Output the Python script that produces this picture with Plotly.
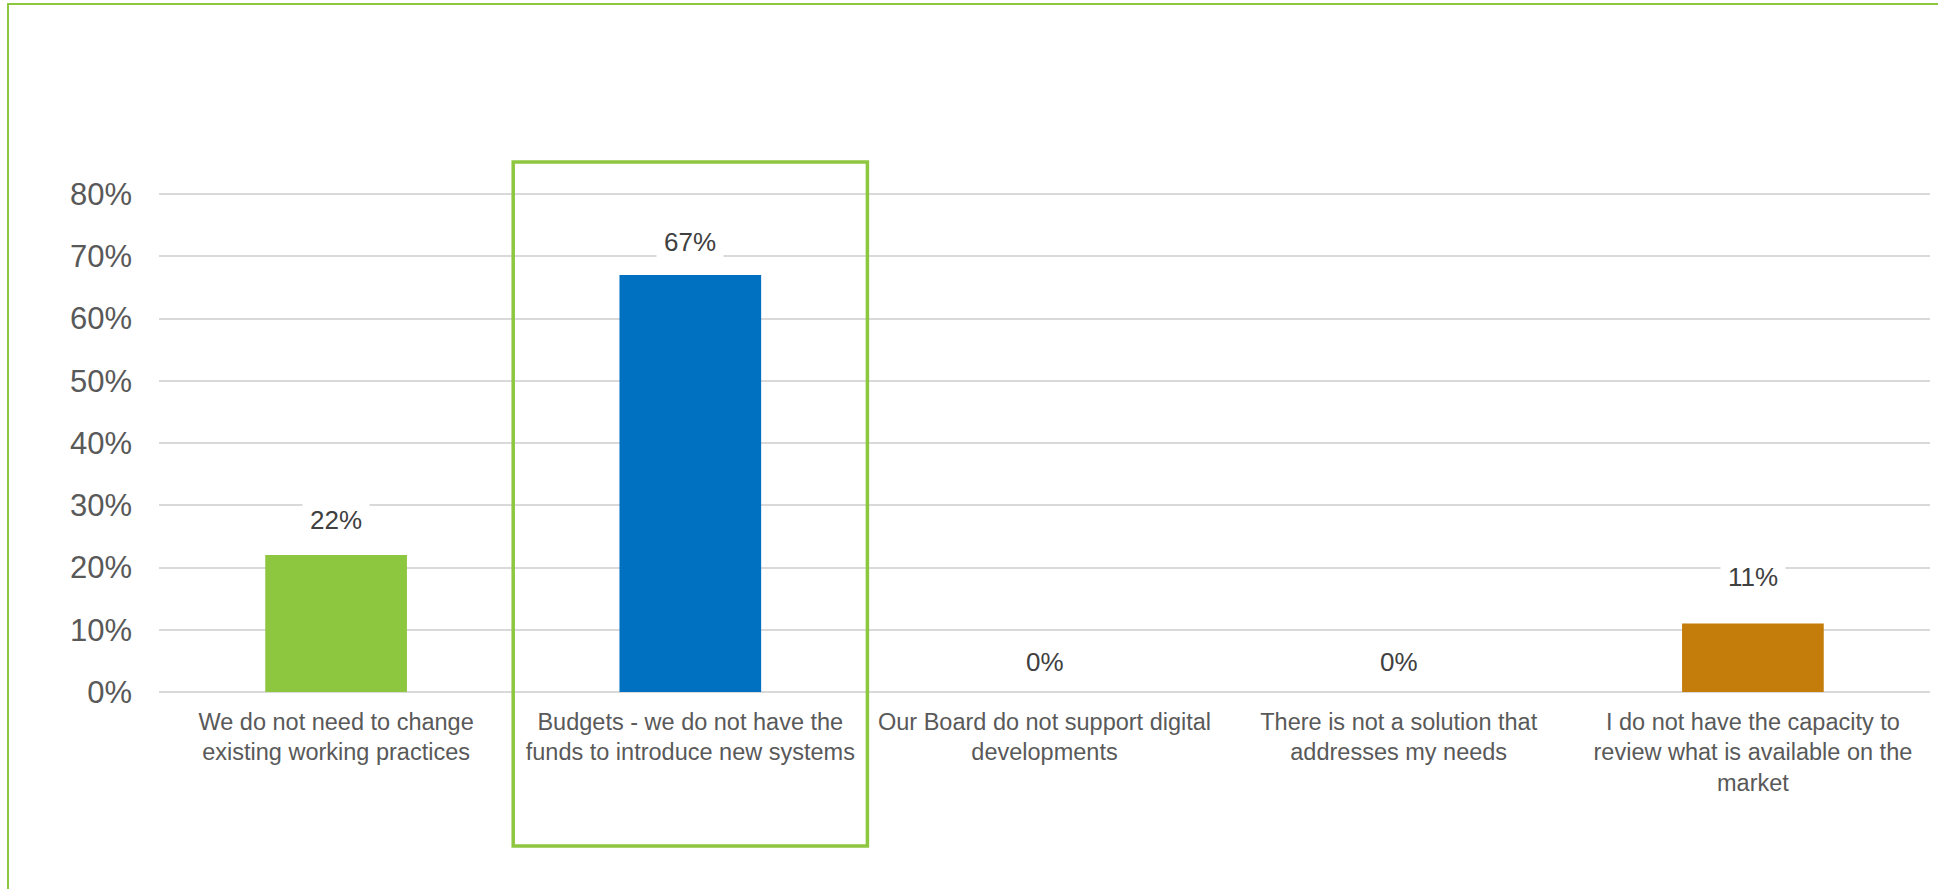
import plotly.graph_objects as go

# Survey responses: barriers to adopting new digital systems
categories = [
    "We do not need to change<br>existing working practices",
    "Budgets - we do not have the<br>funds to introduce new systems",
    "Our Board do not support digital<br>developments",
    "There is not a solution that<br>addresses my needs",
    "I do not have the capacity to<br>review what is available on the<br>market",
]
shares = [0.22, 0.67, 0.0, 0.0, 0.11]
value_labels = ["22%", "67%", "0%", "0%", "11%"]
tick_values = [0, 0.1, 0.2, 0.3, 0.4, 0.5, 0.6, 0.7, 0.8]
tick_labels = ["0%", "10%", "20%", "30%", "40%", "50%", "60%", "70%", "80%"]

# styling
bar_colors = ["#8DC63F", "#0070C0", "#A5A5A5", "#FFC000", "#C47C0A"]
label_lift = [35, 33, 30, 30, 47]      # vertical offset of value labels (px)
highlight_index = 1                     # category framed by the green box
FONT = "Liberation Sans, Arial, sans-serif"
GREEN = "#8DC63F"

W, H = 1941, 890
M_L, M_R, M_T, M_B = 159, 11, 163, 198
plot_w = W - M_L - M_R
plot_h = H - M_T - M_B


def px_x(px):
    return (px - M_L) / plot_w


def px_y(py):
    return (H - M_B - py) / plot_h


fig = go.Figure()
fig.add_trace(go.Bar(
    x=list(range(len(categories))),
    y=shares,
    marker=dict(color=bar_colors, line=dict(width=0)),
    hoverinfo="skip",
))

for i, (v, txt) in enumerate(zip(shares, value_labels)):
    fig.add_annotation(
        x=i, y=v, xref="x", yref="y",
        text=txt, showarrow=False,
        yshift=label_lift[i], yanchor="middle",
        font=dict(family=FONT, size=26, color="#404040"),
        bgcolor="white", borderpad=7,
    )

# green frame around the highlighted category
fig.add_shape(
    type="rect", xref="x", yref="paper",
    x0=highlight_index - 0.5, x1=highlight_index + 0.5,
    y0=px_y(846), y1=px_y(162),
    line=dict(color=GREEN, width=3.5),
    fillcolor="rgba(0,0,0,0)", layer="above",
)

# outer chart frame: top and left edges
fig.add_shape(
    type="line", xref="paper", yref="paper",
    x0=px_x(8), x1=px_x(8), y0=px_y(H - 1), y1=px_y(3),
    line=dict(color=GREEN, width=2),
)
fig.add_shape(
    type="line", xref="paper", yref="paper",
    x0=px_x(7), x1=px_x(W - 3), y0=px_y(4), y1=px_y(4),
    line=dict(color=GREEN, width=2),
)

fig.update_layout(
    width=W, height=H,
    margin=dict(l=M_L, r=M_R, t=M_T, b=M_B, autoexpand=False),
    paper_bgcolor="white", plot_bgcolor="white",
    showlegend=False, bargap=0.6,
    font=dict(family=FONT, color="#595959"),
)
fig.update_xaxes(
    tickmode="array", tickvals=list(range(len(categories))), ticktext=categories,
    range=[-0.5, len(categories) - 0.5],
    tickfont=dict(family=FONT, size=23.5, color="#595959"),
    showgrid=False, showline=False, zeroline=False, ticks="",
    ticklabelstandoff=13, tickangle=0,
)
fig.update_yaxes(
    range=[0, 0.85], tickmode="array", tickvals=tick_values, ticktext=tick_labels,
    tickfont=dict(family=FONT, size=31, color="#595959"),
    showgrid=True, gridcolor="#D9D9D9", gridwidth=1.5,
    zeroline=True, zerolinecolor="#D9D9D9", zerolinewidth=1.5,
    showline=False, ticks="", ticklabelstandoff=26,
)

fig.write_html("out.html", config={"displayModeBar": False})
